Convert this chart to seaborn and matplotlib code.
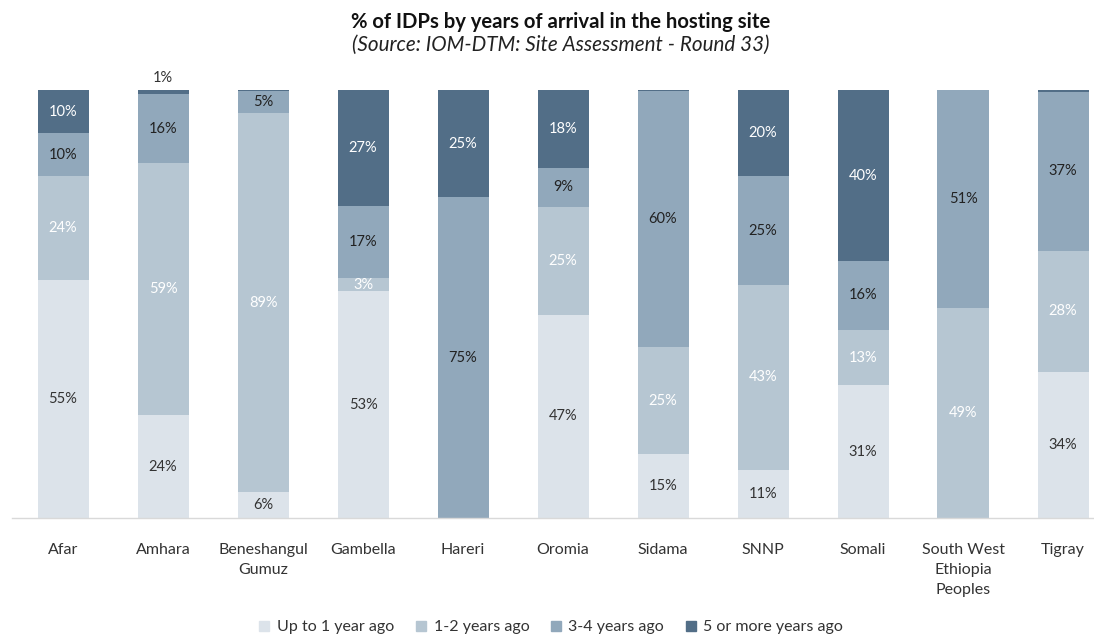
import numpy as np
import pandas as pd
import matplotlib
matplotlib.use("Agg")
import matplotlib.pyplot as plt
from matplotlib.lines import Line2D
import seaborn as sns

regions = ["Afar", "Amhara", "Beneshangul\nGumuz", "Gambella", "Hareri", "Oromia",
           "Sidama", "SNNP", "Somali", "South West\nEthiopia\nPeoples", "Tigray"]
up_to_1 = [55, 24, 6, 53, 0, 47, 15, 11, 31, 0, 34]
y1_2 = [24, 59, 89, 3, 0, 25, 25, 43, 13, 49, 28]
y3_4 = [10, 16, 5, 17, 75, 9, 60, 25, 16, 51, 37]
y5_plus = [10, 1, 0.3, 27, 25, 18, 0.3, 20, 40, 0, 0.4]
series_names = ["Up to 1 year ago", "1-2 years ago", "3-4 years ago", "5 or more years ago"]
colors = ["#dce3ea", "#b6c6d2", "#91a8bb", "#526e87"]
label_colors = ["#333333", "#ffffff", "#222222", "#ffffff"]

sns.set_theme(style="white")
plt.rcParams['font.family'] = ['Lato', 'DejaVu Sans']

vals = np.array([up_to_1, y1_2, y3_4, y5_plus], dtype=float)
totals = vals.sum(axis=0)
pct = vals / totals * 100
cum = np.cumsum(pct, axis=0)

fig = plt.figure(figsize=(10.94, 6.35), dpi=100)
ax = fig.add_axes([12/1094, 1-518/635, 1-12/1094, (518-90)/635])

# draw cumulative layers from the top down so lower layers overlay
for k in range(3, -1, -1):
    df = pd.DataFrame({"region": regions, "value": cum[k]})
    sns.barplot(data=df, x="region", y="value", order=regions, color=colors[k],
                width=0.51, saturation=1, ax=ax, edgecolor="none", linewidth=0)

for i in range(len(regions)):
    for k in range(4):
        v = vals[k, i]
        if v < 0.5:
            continue
        mid = cum[k, i] - pct[k, i] / 2
        if regions[i] == "Amhara" and k == 3:
            ax.text(i, 100 + 1.2, f"{v:.0f}%", ha="center", va="bottom",
                    fontsize=10.5, color="#333333", clip_on=False)
            continue
        ax.text(i, mid, f"{v:.0f}%", ha="center", va="center",
                fontsize=10.5, color=label_colors[k])

ax.set_ylim(0, 100)
ax.set_xlim(-0.51, 10.31)
ax.set_xlabel("")
ax.set_ylabel("")
ax.set_yticks([])
for s in ["top", "left", "right"]:
    ax.spines[s].set_visible(False)
ax.spines["bottom"].set_color("#d9d9d9")
ax.spines["bottom"].set_linewidth(1)
ax.tick_params(axis="x", length=0, pad=18, labelsize=11.5, labelcolor="#333333")
for t in ax.get_xticklabels():
    t.set_linespacing(1.55)

fig.text(561/1094, 1-22/635, "% of IDPs by years of arrival in the hosting site",
         ha="center", va="center", fontsize=14.6, fontweight="bold", color="#111111")
fig.text(561/1094, 1-45/635, "(Source: IOM-DTM: Site Assessment - Round 33)",
         ha="center", va="center", fontsize=14.9, fontstyle="italic", color="#222222")

handles = [Line2D([0], [0], marker="s", linestyle="none", markersize=7,
                  markerfacecolor=c, markeredgecolor=c) for c in colors]
fig.legend(handles, series_names, loc="center", bbox_to_anchor=(551/1094, 1-627/635),
           ncol=4, frameon=False, fontsize=11.5, handlelength=0.7, handletextpad=0.45,
           columnspacing=1.3, labelcolor="#333333")

fig.savefig("out.png", dpi=100, facecolor="white")
